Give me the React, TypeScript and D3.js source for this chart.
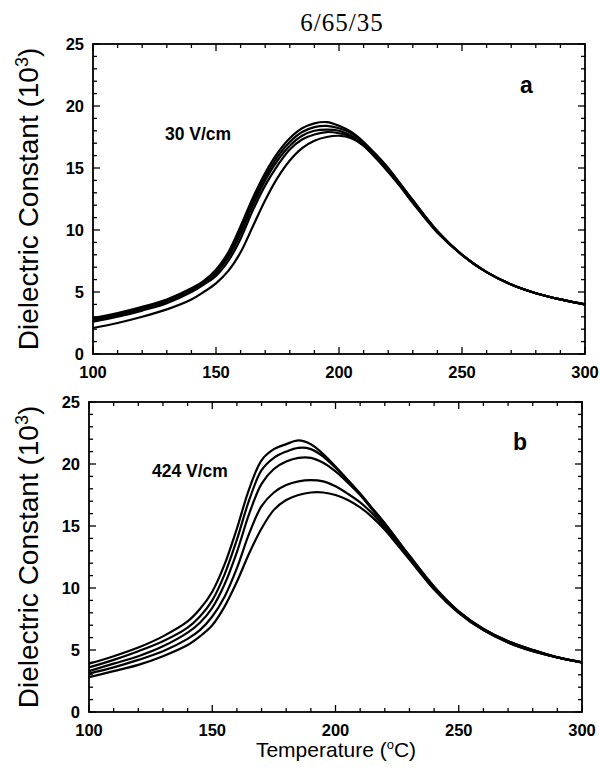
import React from "react";
import * as d3 from "d3";

const temps = [100,110,120,130,140,145,150,155,160,165,170,175,180,185,190,195,200,205,210,215,220,225,230,240,250,260,270,280,290,300];

const a1 = [2.9,3.3,3.8,4.4,5.3,5.9,6.8,8.2,10.3,12.6,14.6,16.2,17.4,18.2,18.6,18.7,18.4,17.9,17.1,16.1,15.0,13.7,12.4,9.9,8.0,6.6,5.6,4.9,4.4,4.0];
const a2 = [2.8,3.2,3.7,4.3,5.2,5.8,6.6,8.0,10.0,12.3,14.3,15.9,17.1,17.9,18.3,18.4,18.2,17.8,17.0,16.0,14.9,13.7,12.4,9.9,8.0,6.6,5.6,4.9,4.4,4.0];
const a3 = [2.7,3.1,3.6,4.2,5.1,5.7,6.5,7.8,9.7,12.0,14.0,15.6,16.8,17.6,18.0,18.1,18.0,17.6,16.9,15.9,14.8,13.6,12.3,9.9,8.0,6.6,5.6,4.9,4.4,4.0];
const a4 = [2.6,3.0,3.5,4.1,5.0,5.6,6.3,7.5,9.3,11.6,13.6,15.2,16.5,17.3,17.7,17.9,17.8,17.5,16.8,15.8,14.7,13.5,12.2,9.8,8.0,6.6,5.6,4.9,4.4,4.0];
const a5 = [2.1,2.5,3.0,3.6,4.4,5.0,5.7,6.7,8.2,10.3,12.4,14.2,15.6,16.6,17.2,17.5,17.6,17.4,16.8,15.8,14.7,13.5,12.2,9.8,8.0,6.6,5.6,4.9,4.4,4.0];

const b1 = [3.9,4.5,5.2,6.1,7.3,8.3,9.7,11.9,14.8,18.0,20.3,21.2,21.6,21.9,21.6,20.8,19.8,18.7,17.6,16.4,15.2,13.9,12.6,10.1,8.1,6.7,5.7,5.0,4.4,4.0];
const b2 = [3.6,4.2,4.9,5.7,6.8,7.7,9.0,11.1,13.9,17.1,19.5,20.5,21.0,21.3,21.2,20.6,19.7,18.7,17.6,16.4,15.2,13.9,12.6,10.1,8.1,6.7,5.7,5.0,4.4,4.0];
const b3 = [3.3,3.9,4.5,5.3,6.4,7.2,8.4,10.3,12.9,16.0,18.4,19.6,20.2,20.5,20.5,20.1,19.4,18.5,17.5,16.3,15.1,13.8,12.5,10.0,8.1,6.7,5.7,5.0,4.4,4.0];
const b4 = [3.1,3.6,4.2,4.9,5.9,6.6,7.7,9.3,11.6,14.4,16.6,17.7,18.3,18.6,18.7,18.6,18.2,17.6,16.9,16.0,14.9,13.7,12.4,9.9,8.0,6.6,5.6,4.9,4.4,4.0];
const b5 = [2.8,3.3,3.8,4.5,5.4,6.1,7.0,8.5,10.5,12.8,14.8,16.3,17.1,17.5,17.7,17.7,17.5,17.1,16.5,15.7,14.7,13.5,12.3,9.9,8.0,6.6,5.6,4.9,4.4,4.0];

const xTicks = [100,150,200,250,300];
const yTicks = [0,5,10,15,20,25];
const title = "6/65/35";
const yLabel = "Dielectric Constant (10";
const xLabel = "Temperature (";

type PanelProps = {
  left: number; right: number; top: number; bottom: number;
  series: number[][]; letter: string; field: string;
  letterPos: [number, number]; fieldPos: [number, number];
};

const sans = "Liberation Sans, Arial, Helvetica, sans-serif";

function Panel(p: PanelProps) {
  const x = d3.scaleLinear().domain([100, 300]).range([p.left, p.right]);
  const y = d3.scaleLinear().domain([0, 25]).range([p.bottom, p.top]);
  const line = d3.line<number>()
    .x((_, i) => x(temps[i]))
    .y((d) => y(d))
    .curve(d3.curveCatmullRom.alpha(0.5));
  const minorX = d3.range(100, 301, 10);
  const minorY = d3.range(0, 26, 1);
  const tickEls: React.ReactNode[] = [];
  minorX.forEach((t) => {
    const L = t % 50 === 0 ? 7 : 4;
    tickEls.push(<line key={"xb" + t} x1={x(t)} x2={x(t)} y1={p.bottom} y2={p.bottom - L} />);
    tickEls.push(<line key={"xt" + t} x1={x(t)} x2={x(t)} y1={p.top} y2={p.top + L} />);
  });
  minorY.forEach((v) => {
    const L = v % 5 === 0 ? 7 : 4;
    tickEls.push(<line key={"yl" + v} x1={p.left} x2={p.left + L} y1={y(v)} y2={y(v)} />);
    tickEls.push(<line key={"yr" + v} x1={p.right} x2={p.right - L} y1={y(v)} y2={y(v)} />);
  });
  const midY = (p.top + p.bottom) / 2;
  return (
    <g>
      <g stroke="#000" strokeWidth={1.3}>{tickEls}</g>
      <rect x={p.left} y={p.top} width={p.right - p.left} height={p.bottom - p.top}
        fill="none" stroke="#000" strokeWidth={1.8} />
      {yTicks.map((v) => (
        <text key={"yt" + v} x={p.left - 9} y={y(v)} dy="0.36em" textAnchor="end"
          fontFamily={sans} fontWeight="bold" fontSize={16.5}>{v}</text>
      ))}
      {xTicks.map((t) => (
        <text key={"xtl" + t} x={x(t)} y={p.bottom + 24} textAnchor="middle"
          fontFamily={sans} fontWeight="bold" fontSize={16.5}>{t}</text>
      ))}
      <g fill="none" stroke="#000" strokeWidth={2.2}>
        {p.series.map((s, i) => <path key={i} d={line(s) || ""} />)}
      </g>
      <text x={p.letterPos[0]} y={p.letterPos[1]} fontFamily={sans} fontWeight="bold" fontSize={23}>{p.letter}</text>
      <text x={p.fieldPos[0]} y={p.fieldPos[1]} fontFamily={sans} fontWeight="bold" fontSize={17.5}>{p.field}</text>
      <text transform={`translate(38,${midY}) rotate(-90)`} textAnchor="middle"
        fontFamily={sans} fontSize={28}>
        {yLabel}<tspan dy={-10} fontSize={18}>3</tspan><tspan dy={10}>)</tspan>
      </text>
    </g>
  );
}

export default function App() {
  return (
    <svg width={600} height={770} style={{ position: "absolute", left: 0, top: 0, background: "#fff" }}>
      <rect width={600} height={770} fill="#fff" />
      <text x={342} y={31} textAnchor="middle" fontFamily="Liberation Serif, Times New Roman, serif"
        fontSize={25} letterSpacing={1}>{title}</text>
      <Panel left={93} right={585} top={44} bottom={354} series={[a1, a2, a3, a4, a5]}
        letter="a" field="30 V/cm" letterPos={[520, 93]} fieldPos={[165, 140]} />
      <Panel left={89} right={582} top={402} bottom={712} series={[b1, b2, b3, b4, b5]}
        letter="b" field="424 V/cm" letterPos={[513, 450]} fieldPos={[152, 477]} />
      <text x={336} y={757} textAnchor="middle" fontFamily={sans} fontSize={21}>
        {xLabel}<tspan fontSize={13} dy={-8}>o</tspan><tspan dy={8}>C)</tspan>
      </text>
    </svg>
  );
}
